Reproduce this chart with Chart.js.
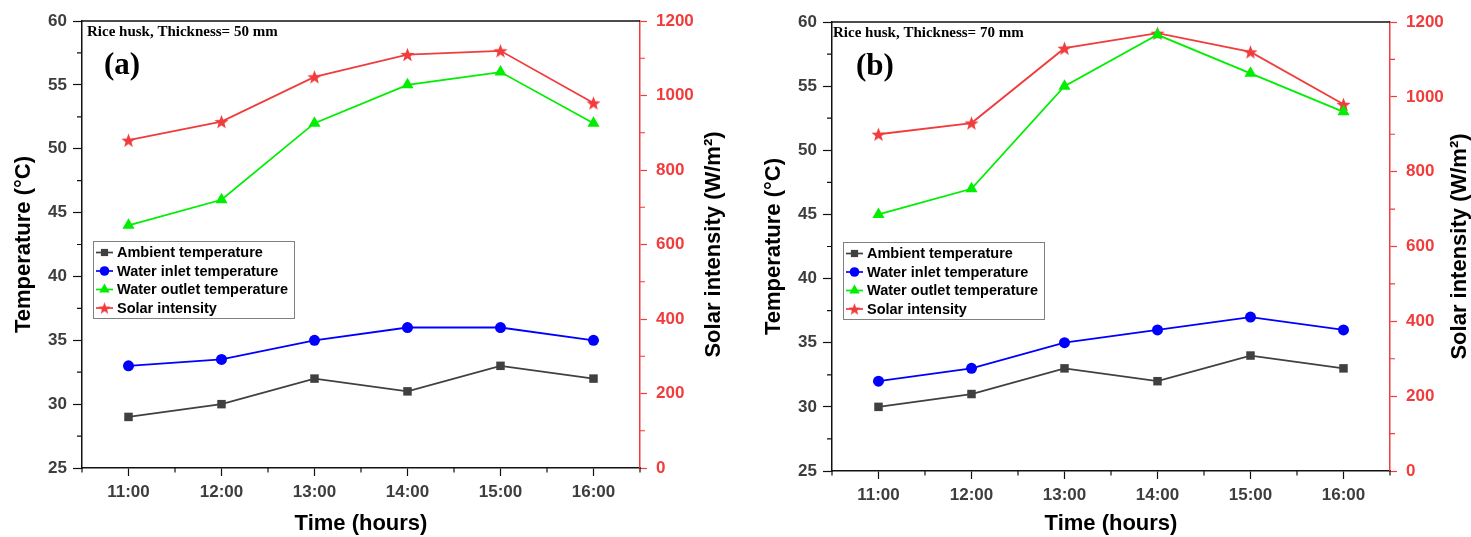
<!DOCTYPE html>
<html>
<head>
<meta charset="utf-8">
<script src="https://cdn.jsdelivr.net/npm/chart.js@4.4.0/dist/chart.umd.min.js"></script>
<style>
  html, body { margin: 0; padding: 0; background: #fff; }
  #wrap { position: relative; width: 1471px; height: 537px; overflow: hidden; }
  .panel { position: absolute; top: 0; height: 537px; }
</style>
</head>
<body>
<div id="wrap">
  <div class="panel" style="left:0;width:735px"><canvas id="chartA"></canvas></div>
  <div class="panel" style="left:750px;width:721px"><canvas id="chartB"></canvas></div>
</div>
<script>
const hours = ["11:00", "12:00", "13:00", "14:00", "15:00", "16:00"];

// panel (a): rice husk 50 mm
const ambientA = [29, 30, 32, 31, 33, 32];
const inletA = [33, 33.5, 35, 36, 36, 35];
const outletA = [44, 46, 52, 55, 56, 52];
const solarA = [880, 930, 1050, 1110, 1120, 980];

// panel (b): rice husk 70 mm
const ambientB = [30, 31, 33, 32, 34, 33];
const inletB = [32, 33, 35, 36, 37, 36];
const outletB = [45, 47, 55, 59, 56, 53];
const solarB = [900, 930, 1130, 1170, 1120, 980];

const tempTicks = [25, 60, 5];
const solarTicks = [0, 1200, 200];

const SANS = "'Liberation Sans', Arial, sans-serif";
const SERIF = "'Liberation Serif', 'Times New Roman', serif";
const RED = "#f03c3c";
const TICKGREY = "#3d3d3d";

Chart.defaults.font.family = SANS;

function makeStar(color, R) {
  let c = document.createElement("canvas");
  let s = Math.ceil(R * 2 + 2);
  c.width = s; c.height = s;
  let g = c.getContext("2d");
  let r = R * 0.42;
  g.beginPath();
  for (let i = 0; i < 10; i++) {
    let a = -Math.PI / 2 + i * Math.PI / 5;
    let rr = i % 2 === 0 ? R : r;
    let x = s / 2 + Math.cos(a) * rr, y = s / 2 + Math.sin(a) * rr + R * 0.1;
    if (i === 0) g.moveTo(x, y); else g.lineTo(x, y);
  }
  g.closePath();
  g.fillStyle = color;
  g.fill();
  return c;
}
const starImg = makeStar(RED, 7.4);
const starSmall = makeStar(RED, 6.4);

function drawMarker(ctx, kind, x, y, color) {
  ctx.fillStyle = color;
  ctx.beginPath();
  if (kind === "rect") {
    ctx.rect(x - 3.6, y - 3.6, 7.2, 7.2);
    ctx.fill();
  } else if (kind === "circle") {
    ctx.arc(x, y, 4.8, 0, Math.PI * 2);
    ctx.fill();
  } else if (kind === "triangle") {
    let r = 6;
    ctx.moveTo(x, y - r);
    ctx.lineTo(x + r * 0.866, y + r * 0.5);
    ctx.lineTo(x - r * 0.866, y + r * 0.5);
    ctx.closePath();
    ctx.fill();
  } else {
    ctx.drawImage(starSmall, x - starSmall.width / 2, y - starSmall.height / 2);
  }
}

const decor = {
  id: "decor",
  afterDraw(chart) {
    const ctx = chart.ctx;
    const a = chart.chartArea;
    const p = chart.options.plugins.decor;
    const xs = chart.scales.x, ys = chart.scales.y, y2 = chart.scales.y2;
    ctx.save();

    // top frame line
    ctx.strokeStyle = "#111";
    ctx.lineWidth = 1.5;
    ctx.beginPath();
    ctx.moveTo(a.left, a.top);
    ctx.lineTo(a.right, a.top);
    ctx.stroke();

    // minor ticks on x
    ctx.lineWidth = 1.2;
    ctx.beginPath();
    let n = hours.length;
    for (let i = 0; i <= n; i++) {
      let px;
      if (i === 0) px = a.left;
      else if (i === n) px = a.right;
      else px = (xs.getPixelForTick(i - 1) + xs.getPixelForTick(i)) / 2;
      ctx.moveTo(px, a.bottom);
      ctx.lineTo(px, a.bottom + 4.5);
    }
    ctx.stroke();

    // minor ticks on left axis
    ctx.beginPath();
    for (let v = tempTicks[0] + tempTicks[2] / 2; v < tempTicks[1]; v += tempTicks[2]) {
      let py = ys.getPixelForValue(v);
      ctx.moveTo(a.left, py);
      ctx.lineTo(a.left - 5, py);
    }
    ctx.stroke();

    // minor ticks on right axis
    ctx.strokeStyle = RED;
    ctx.beginPath();
    for (let v = solarTicks[0] + solarTicks[2] / 2; v < solarTicks[1]; v += solarTicks[2]) {
      let py = y2.getPixelForValue(v);
      ctx.moveTo(a.right, py);
      ctx.lineTo(a.right + 5, py);
    }
    ctx.stroke();

    // right axis title
    ctx.save();
    ctx.translate(a.right + p.rightTitleDx, (a.top + a.bottom) / 2);
    ctx.rotate(-Math.PI / 2);
    ctx.fillStyle = "#000";
    ctx.font = "bold 22px " + SANS;
    ctx.textAlign = "center";
    ctx.textBaseline = "middle";
    ctx.fillText("Solar intensity (W/m²)", 0, 0);
    ctx.restore();

    // note and panel tag
    ctx.fillStyle = "#000";
    ctx.textAlign = "left";
    ctx.textBaseline = "alphabetic";
    ctx.font = "bold 15px " + SERIF;
    ctx.fillText(p.note, a.left + p.noteDx, a.top + 15);
    ctx.font = "bold 31px " + SERIF;
    ctx.fillText(p.tag, a.left + p.tagDx, a.top + 53);

    // legend box
    let bx = a.left + 11, by = a.top + 220, bw = 201, bh = 77;
    ctx.fillStyle = "#fff";
    ctx.fillRect(bx, by, bw, bh);
    ctx.strokeStyle = "#808080";
    ctx.lineWidth = 1;
    ctx.strokeRect(bx + 0.5, by + 0.5, bw, bh);
    const rows = [11.5, 30, 48.5, 67];
    chart.data.datasets.forEach((ds, i) => {
      let ry = by + rows[i];
      ctx.strokeStyle = ds.borderColor;
      ctx.lineWidth = 1.7;
      ctx.beginPath();
      ctx.moveTo(bx + 3, ry);
      ctx.lineTo(bx + 20, ry);
      ctx.stroke();
      drawMarker(ctx, ds.marker, bx + 11.5, ry, ds.borderColor);
      ctx.fillStyle = "#000";
      ctx.font = "bold 14.5px " + SANS;
      ctx.textBaseline = "middle";
      ctx.fillText(ds.label, bx + 24, ry + 0.5);
    });
    ctx.restore();
  }
};

function buildChart(canvasId, cfg) {
  const tickFont = { size: 17, weight: "bold", family: SANS };
  let chartData = {
    labels: hours,
    datasets: [
      {
        label: "Ambient temperature",
        data: cfg.ambient,
        marker: "rect",
        borderColor: "#404040",
        backgroundColor: "#404040",
        pointStyle: "rect",
        pointRadius: 6,
        yAxisID: "y",
      },
      {
        label: "Water inlet temperature",
        data: cfg.inlet,
        marker: "circle",
        borderColor: "#0000ff",
        backgroundColor: "#0000ff",
        pointStyle: "circle",
        pointRadius: 5.5,
        yAxisID: "y",
      },
      {
        label: "Water outlet temperature",
        data: cfg.outlet,
        marker: "triangle",
        borderColor: "#00ee00",
        backgroundColor: "#00ee00",
        pointStyle: "triangle",
        pointRadius: 7,
        yAxisID: "y",
      },
      {
        label: "Solar intensity",
        data: cfg.solar,
        marker: "star",
        borderColor: RED,
        backgroundColor: RED,
        pointStyle: starImg,
        yAxisID: "y2",
      },
    ],
  };
  chartData.datasets.forEach((d) => {
    d.borderWidth = 1.8;
    d.pointBorderWidth = 0;
    d.tension = 0;
    d.fill = false;
  });

  let options = {
    responsive: true,
    maintainAspectRatio: false,
    animation: false,
    layout: { padding: { top: cfg.top, left: 0, right: 0, bottom: 0 } },
    plugins: {
      legend: { display: false },
      tooltip: { enabled: false },
      decor: cfg,
    },
    scales: {
      x: {
        type: "category",
        offset: true,
        grid: { drawOnChartArea: false, offset: false, tickLength: 8, tickColor: "#111", tickWidth: 1.2 },
        border: { color: "#111", width: 1.5 },
        ticks: { font: tickFont, color: TICKGREY, padding: 6, autoSkip: false, maxRotation: 0 },
        title: { display: true, text: "Time (hours)", color: "#000", font: { size: 22, weight: "bold" }, padding: { top: 0, bottom: 0 } },
        afterFit: (s) => { s.height = cfg.xHeight; },
      },
      y: {
        position: "left",
        min: tempTicks[0],
        max: tempTicks[1],
        ticks: { stepSize: tempTicks[2], font: tickFont, color: TICKGREY, padding: 6 },
        grid: { drawOnChartArea: false, tickLength: 9, tickColor: "#111", tickWidth: 1.2 },
        border: { color: "#111", width: 1.5 },
        title: { display: true, text: "Temperature (°C)", color: "#000", font: { size: 22, weight: "bold" }, padding: { top: 11, bottom: 0 } },
        afterFit: (s) => { s.width = 82; },
      },
      y2: {
        position: "right",
        min: solarTicks[0],
        max: solarTicks[1],
        ticks: { stepSize: solarTicks[2], font: tickFont, color: RED, padding: 9, callback: (v) => String(v) },
        grid: { drawOnChartArea: false, tickLength: 7, tickColor: RED, tickWidth: 1.2 },
        border: { color: RED, width: 1.5 },
        title: { display: false },
        afterFit: (s) => { s.width = cfg.rightWidth; },
      },
    },
  };

  return new Chart(document.getElementById(canvasId), {
    type: "line",
    data: chartData,
    options: options,
    plugins: [decor],
  });
}

buildChart("chartA", {
  ambient: ambientA, inlet: inletA, outlet: outletA, solar: solarA,
  note: "Rice husk, Thickness= 50 mm", tag: "(a)",
  top: 21, xHeight: 69, rightWidth: 95, rightTitleDx: 74, noteDx: 5, tagDx: 22,
});
buildChart("chartB", {
  ambient: ambientB, inlet: inletB, outlet: outletB, solar: solarB,
  note: "Rice husk, Thickness= 70 mm", tag: "(b)",
  top: 22, xHeight: 66, rightWidth: 81, rightTitleDx: 70, noteDx: 1, tagDx: 24,
});
</script>
</body>
</html>
